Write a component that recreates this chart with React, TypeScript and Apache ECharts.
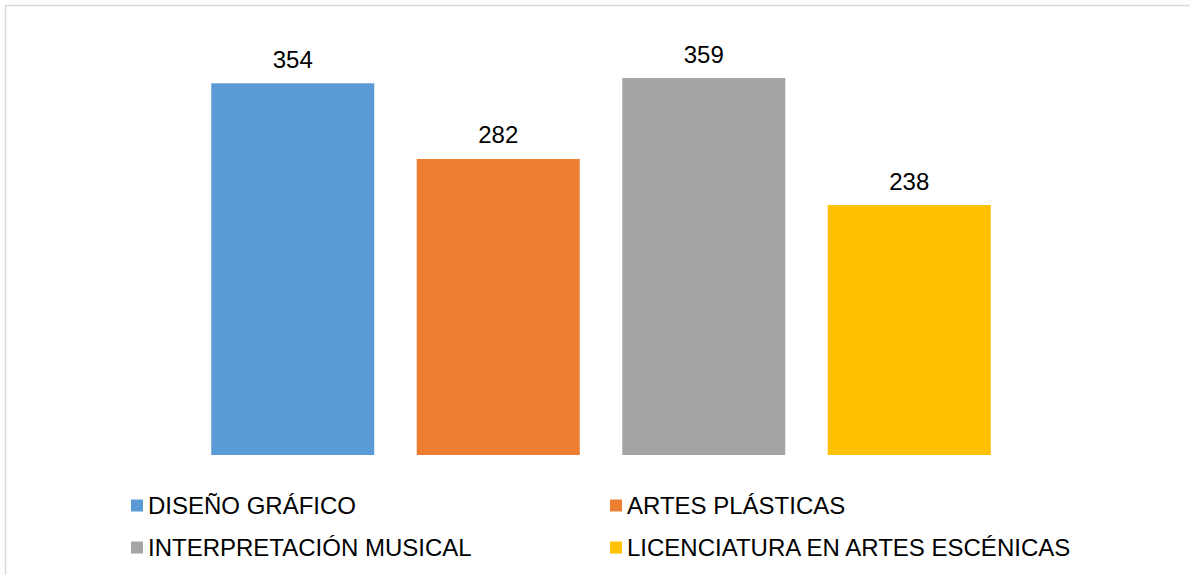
import React, { useEffect, useRef } from "react";
import * as echarts from "echarts";

const categories = ["DISEÑO GRÁFICO", "ARTES PLÁSTICAS", "INTERPRETACIÓN MUSICAL", "LICENCIATURA EN ARTES ESCÉNICAS"];
const values = [354, 282, 359, 238];
const colors = ["#5B9BD5", "#ED7D31", "#A5A5A5", "#FFC000"];
const legendPositions = [
  { left: 131, top: 493.5 },
  { left: 610, top: 493.5 },
  { left: 131, top: 535.5 },
  { left: 610, top: 535.5 },
];

export default function App() {
  const ref = useRef<HTMLDivElement>(null);
  useEffect(() => {
    if (!ref.current) return;
    const chart = echarts.init(ref.current, undefined, { renderer: "svg" });
    const font = "Liberation Sans, Arial, sans-serif";
    const series = categories.map((name, i) => ({
      name,
      type: "bar",
      stack: "all",
      barWidth: 163,
      itemStyle: { color: colors[i] },
      label: {
        show: true,
        position: "top",
        distance: 12,
        color: "#000",
        fontSize: 24,
        fontFamily: font,
        formatter: (p: any) => (p.value === "-" || p.value == null ? "" : String(p.value)),
      },
      data: categories.map((_, j) => (j === i ? values[i] : "-")),
    }));
    chart.setOption({
      animation: false,
      backgroundColor: "#fff",
      grid: { left: 190, right: 178, top: 35, height: 420 },
      xAxis: {
        type: "category",
        data: categories,
        axisLine: { show: false },
        axisTick: { show: false },
        axisLabel: { show: false },
      },
      yAxis: {
        type: "value",
        min: 0,
        max: 400,
        axisLine: { show: false },
        axisTick: { show: false },
        axisLabel: { show: false },
        splitLine: { show: false },
      },
      legend: categories.map((name, i) => ({
        data: [name],
        left: legendPositions[i].left,
        top: legendPositions[i].top,
        padding: 0,
        itemWidth: 12,
        itemHeight: 12,
        icon: "rect",
        selectedMode: false,
        textStyle: { fontSize: 24, fontFamily: font, color: "#000", lineHeight: 24 },
      })),
      graphic: [
        {
          type: "rect",
          shape: { x: 5.5, y: 5.5, width: 1200, height: 600 },
          style: { fill: "none", stroke: "#D9D9D9", lineWidth: 1.5 },
          silent: true,
        },
      ],
      series,
    });
    return () => chart.dispose();
  }, []);
  return (
    <div
      ref={ref}
      style={{ position: "fixed", left: 0, top: 0, width: 1190, height: 575 }}
    />
  );
}
